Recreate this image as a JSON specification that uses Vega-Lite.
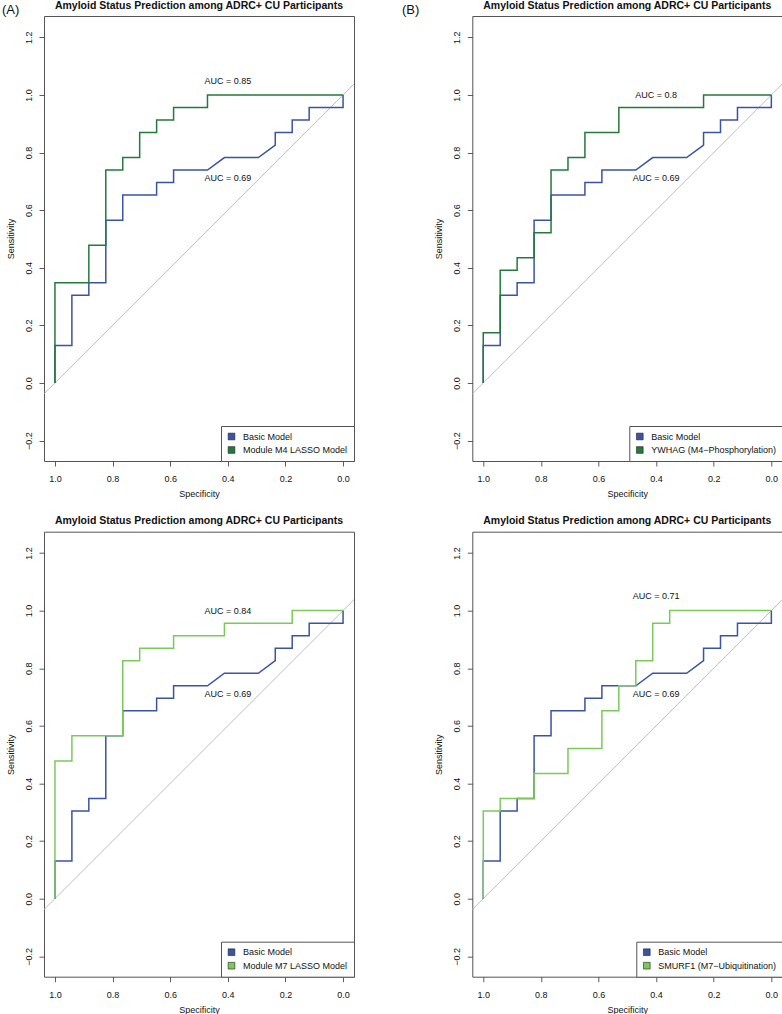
{
 "$schema": "https://vega.github.io/schema/vega-lite/v6.json",
 "padding": {"left": 1, "top": 0, "right": 1, "bottom": 1},
 "background": "white",
 "datasets": {
  "basic": [
   {"spec":1,"sens":0},{"spec":1,"sens":0.1304},{"spec":0.9412,"sens":0.1304},{"spec":0.9412,"sens":0.3043},
   {"spec":0.8824,"sens":0.3043},{"spec":0.8824,"sens":0.3478},{"spec":0.8235,"sens":0.3478},{"spec":0.8235,"sens":0.5652},
   {"spec":0.7647,"sens":0.5652},{"spec":0.7647,"sens":0.6522},{"spec":0.6471,"sens":0.6522},{"spec":0.6471,"sens":0.6957},
   {"spec":0.5882,"sens":0.6957},{"spec":0.5882,"sens":0.7391},{"spec":0.4706,"sens":0.7391},{"spec":0.4118,"sens":0.7826},
   {"spec":0.2941,"sens":0.7826},{"spec":0.2353,"sens":0.8261},{"spec":0.2353,"sens":0.8696},{"spec":0.1765,"sens":0.8696},
   {"spec":0.1765,"sens":0.913},{"spec":0.1176,"sens":0.913},{"spec":0.1176,"sens":0.9565},{"spec":0,"sens":0.9565},{"spec":0,"sens":1}
  ],
  "m4": [
   {"spec":1,"sens":0},{"spec":1,"sens":0.3478},{"spec":0.8824,"sens":0.3478},{"spec":0.8824,"sens":0.4783},
   {"spec":0.8235,"sens":0.4783},{"spec":0.8235,"sens":0.7391},{"spec":0.7647,"sens":0.7391},{"spec":0.7647,"sens":0.7826},
   {"spec":0.7059,"sens":0.7826},{"spec":0.7059,"sens":0.8696},{"spec":0.6471,"sens":0.8696},{"spec":0.6471,"sens":0.913},
   {"spec":0.5882,"sens":0.913},{"spec":0.5882,"sens":0.9565},{"spec":0.4706,"sens":0.9565},{"spec":0.4706,"sens":1},{"spec":0,"sens":1}
  ],
  "ywhag": [
   {"spec":1,"sens":0},{"spec":1,"sens":0.1739},{"spec":0.9412,"sens":0.1739},{"spec":0.9412,"sens":0.3913},
   {"spec":0.8824,"sens":0.3913},{"spec":0.8824,"sens":0.4348},{"spec":0.8235,"sens":0.4348},{"spec":0.8235,"sens":0.5217},
   {"spec":0.7647,"sens":0.5217},{"spec":0.7647,"sens":0.7391},{"spec":0.7059,"sens":0.7391},{"spec":0.7059,"sens":0.7826},
   {"spec":0.6471,"sens":0.7826},{"spec":0.6471,"sens":0.8696},{"spec":0.5294,"sens":0.8696},{"spec":0.5294,"sens":0.9565},
   {"spec":0.2353,"sens":0.9565},{"spec":0.2353,"sens":1},{"spec":0,"sens":1}
  ],
  "m7": [
   {"spec":1,"sens":0},{"spec":1,"sens":0.4783},{"spec":0.9412,"sens":0.4783},{"spec":0.9412,"sens":0.5652},
   {"spec":0.7647,"sens":0.5652},{"spec":0.7647,"sens":0.8261},{"spec":0.7059,"sens":0.8261},{"spec":0.7059,"sens":0.8696},
   {"spec":0.5882,"sens":0.8696},{"spec":0.5882,"sens":0.913},{"spec":0.4118,"sens":0.913},{"spec":0.4118,"sens":0.9565},
   {"spec":0.1765,"sens":0.9565},{"spec":0.1765,"sens":1},{"spec":0,"sens":1}
  ],
  "smurf1": [
   {"spec":1,"sens":0},{"spec":1,"sens":0.3043},{"spec":0.9412,"sens":0.3043},{"spec":0.9412,"sens":0.3478},
   {"spec":0.8235,"sens":0.3478},{"spec":0.8235,"sens":0.4348},{"spec":0.7059,"sens":0.4348},{"spec":0.7059,"sens":0.5217},
   {"spec":0.5882,"sens":0.5217},{"spec":0.5882,"sens":0.6522},{"spec":0.5294,"sens":0.6522},{"spec":0.5294,"sens":0.7391},
   {"spec":0.4706,"sens":0.7391},{"spec":0.4706,"sens":0.8261},{"spec":0.4118,"sens":0.8261},{"spec":0.4118,"sens":0.9565},
   {"spec":0.3529,"sens":0.9565},{"spec":0.3529,"sens":1},{"spec":0,"sens":1}
  ]
 },
 "columns": 2,
 "spacing": {"row": 70.7, "column": 118.3},
 "bounds": "flush",
 "resolve": {"scale": {"color": "independent", "x": "independent", "y": "independent"}, "legend": {"color": "independent"}},
 "concat": [
  {
   "width": 310, "height": 445,
   "title": {"text": "Amyloid Status Prediction among ADRC+ CU Participants", "offset": -7.5},
   "layer": [
    {"data": {"values": [{}]}, "mark": {"type": "rule", "color": "#B8B8B8", "strokeWidth": 0.9},
     "encoding": {
      "x": {"datum": 1.038, "type": "quantitative", "scale": {"domain": [-0.038, 1.038], "reverse": true, "nice": false, "zero": false}, "axis": {"title": "Specificity", "values": [0, 0.2, 0.4, 0.6, 0.8, 1], "format": ".1f"}},
      "y": {"datum": -0.038, "type": "quantitative", "scale": {"domain": [-0.271, 1.274], "nice": false, "zero": false}, "axis": {"title": "Sensitivity", "values": [-0.2, 0, 0.2, 0.4, 0.6, 0.8, 1, 1.2], "format": ".1f", "labelAngle": -90}},
      "x2": {"datum": -0.038}, "y2": {"datum": 1.038}}},
    {"data": {"values": [{"model": "Basic Model"}, {"model": "Module M4 LASSO Model"}]}, "mark": {"type": "square", "opacity": 0},
     "encoding": {"color": {"field": "model", "type": "nominal", "sort": null, "scale": {"domain": ["Basic Model", "Module M4 LASSO Model"], "range": ["#3A53A4", "#237A3C"]}, "legend": {"title": null, "direction": "vertical"}}}},
    {"data": {"name": "basic"}, "mark": {"type": "line", "strokeWidth": 1.5, "color": "#3A53A4"},
     "encoding": {"x": {"field": "spec", "type": "quantitative"}, "y": {"field": "sens", "type": "quantitative"}, "order": {"value": null}}},
    {"data": {"name": "m4"}, "mark": {"type": "line", "strokeWidth": 1.5, "color": "#237A3C"},
     "encoding": {"x": {"field": "spec", "type": "quantitative"}, "y": {"field": "sens", "type": "quantitative"}, "order": {"value": null}}},
    {"data": {"values": [{}]}, "mark": {"type": "text", "fontSize": 9, "color": "#111"},
     "encoding": {"x": {"datum": 0.4, "type": "quantitative"}, "y": {"datum": 1.05, "type": "quantitative"}, "text": {"value": "AUC = 0.85"}}},
    {"data": {"values": [{}]}, "mark": {"type": "text", "fontSize": 9, "color": "#111"},
     "encoding": {"x": {"datum": 0.4, "type": "quantitative"}, "y": {"datum": 0.711, "type": "quantitative"}, "text": {"value": "AUC = 0.69"}}},
    {"data": {"values": [{}]}, "mark": {"type": "text", "fontSize": 13, "align": "left", "baseline": "middle", "color": "#111"},
     "encoding": {"x": {"datum": 1.184, "type": "quantitative"}, "y": {"datum": 1.295, "type": "quantitative"}, "text": {"value": "(A)"}}}
   ]
  },
  {
   "width": 310, "height": 445,
   "title": {"text": "Amyloid Status Prediction among ADRC+ CU Participants", "offset": -7.5},
   "layer": [
    {"data": {"values": [{}]}, "mark": {"type": "rule", "color": "#B8B8B8", "strokeWidth": 0.9},
     "encoding": {
      "x": {"datum": 1.038, "type": "quantitative", "scale": {"domain": [-0.038, 1.038], "reverse": true, "nice": false, "zero": false}, "axis": {"title": "Specificity", "values": [0, 0.2, 0.4, 0.6, 0.8, 1], "format": ".1f"}},
      "y": {"datum": -0.038, "type": "quantitative", "scale": {"domain": [-0.271, 1.274], "nice": false, "zero": false}, "axis": {"title": "Sensitivity", "values": [-0.2, 0, 0.2, 0.4, 0.6, 0.8, 1, 1.2], "format": ".1f", "labelAngle": -90}},
      "x2": {"datum": -0.038}, "y2": {"datum": 1.038}}},
    {"data": {"values": [{"model": "Basic Model"}, {"model": "YWHAG (M4−Phosphorylation)"}]}, "mark": {"type": "square", "opacity": 0},
     "encoding": {"color": {"field": "model", "type": "nominal", "sort": null, "scale": {"domain": ["Basic Model", "YWHAG (M4−Phosphorylation)"], "range": ["#3A53A4", "#237A3C"]}, "legend": {"title": null, "direction": "vertical"}}}},
    {"data": {"name": "basic"}, "mark": {"type": "line", "strokeWidth": 1.5, "color": "#3A53A4"},
     "encoding": {"x": {"field": "spec", "type": "quantitative"}, "y": {"field": "sens", "type": "quantitative"}, "order": {"value": null}}},
    {"data": {"name": "ywhag"}, "mark": {"type": "line", "strokeWidth": 1.5, "color": "#237A3C"},
     "encoding": {"x": {"field": "spec", "type": "quantitative"}, "y": {"field": "sens", "type": "quantitative"}, "order": {"value": null}}},
    {"data": {"values": [{}]}, "mark": {"type": "text", "fontSize": 9, "color": "#111"},
     "encoding": {"x": {"datum": 0.4, "type": "quantitative"}, "y": {"datum": 1.0, "type": "quantitative"}, "text": {"value": "AUC = 0.8"}}},
    {"data": {"values": [{}]}, "mark": {"type": "text", "fontSize": 9, "color": "#111"},
     "encoding": {"x": {"datum": 0.4, "type": "quantitative"}, "y": {"datum": 0.711, "type": "quantitative"}, "text": {"value": "AUC = 0.69"}}},
    {"data": {"values": [{}]}, "mark": {"type": "text", "fontSize": 13, "align": "left", "baseline": "middle", "color": "#111"},
     "encoding": {"x": {"datum": 1.282, "type": "quantitative"}, "y": {"datum": 1.295, "type": "quantitative"}, "text": {"value": "(B)"}}}
   ]
  },
  {
   "width": 310, "height": 445,
   "title": "Amyloid Status Prediction among ADRC+ CU Participants",
   "layer": [
    {"data": {"values": [{}]}, "mark": {"type": "rule", "color": "#B8B8B8", "strokeWidth": 0.9},
     "encoding": {
      "x": {"datum": 1.038, "type": "quantitative", "scale": {"domain": [-0.038, 1.038], "reverse": true, "nice": false, "zero": false}, "axis": {"title": "Specificity", "values": [0, 0.2, 0.4, 0.6, 0.8, 1], "format": ".1f"}},
      "y": {"datum": -0.038, "type": "quantitative", "scale": {"domain": [-0.271, 1.274], "nice": false, "zero": false}, "axis": {"title": "Sensitivity", "values": [-0.2, 0, 0.2, 0.4, 0.6, 0.8, 1, 1.2], "format": ".1f", "labelAngle": -90}},
      "x2": {"datum": -0.038}, "y2": {"datum": 1.038}}},
    {"data": {"values": [{"model": "Basic Model"}, {"model": "Module M7 LASSO Model"}]}, "mark": {"type": "square", "opacity": 0},
     "encoding": {"color": {"field": "model", "type": "nominal", "sort": null, "scale": {"domain": ["Basic Model", "Module M7 LASSO Model"], "range": ["#3A53A4", "#7BC95B"]}, "legend": {"title": null, "direction": "vertical"}}}},
    {"data": {"name": "basic"}, "mark": {"type": "line", "strokeWidth": 1.5, "color": "#3A53A4"},
     "encoding": {"x": {"field": "spec", "type": "quantitative"}, "y": {"field": "sens", "type": "quantitative"}, "order": {"value": null}}},
    {"data": {"name": "m7"}, "mark": {"type": "line", "strokeWidth": 1.5, "color": "#7BC95B"},
     "encoding": {"x": {"field": "spec", "type": "quantitative"}, "y": {"field": "sens", "type": "quantitative"}, "order": {"value": null}}},
    {"data": {"values": [{}]}, "mark": {"type": "text", "fontSize": 9, "color": "#111"},
     "encoding": {"x": {"datum": 0.4, "type": "quantitative"}, "y": {"datum": 1.0, "type": "quantitative"}, "text": {"value": "AUC = 0.84"}}},
    {"data": {"values": [{}]}, "mark": {"type": "text", "fontSize": 9, "color": "#111"},
     "encoding": {"x": {"datum": 0.4, "type": "quantitative"}, "y": {"datum": 0.711, "type": "quantitative"}, "text": {"value": "AUC = 0.69"}}}
   ]
  },
  {
   "width": 310, "height": 445,
   "title": "Amyloid Status Prediction among ADRC+ CU Participants",
   "layer": [
    {"data": {"values": [{}]}, "mark": {"type": "rule", "color": "#B8B8B8", "strokeWidth": 0.9},
     "encoding": {
      "x": {"datum": 1.038, "type": "quantitative", "scale": {"domain": [-0.038, 1.038], "reverse": true, "nice": false, "zero": false}, "axis": {"title": "Specificity", "values": [0, 0.2, 0.4, 0.6, 0.8, 1], "format": ".1f"}},
      "y": {"datum": -0.038, "type": "quantitative", "scale": {"domain": [-0.271, 1.274], "nice": false, "zero": false}, "axis": {"title": "Sensitivity", "values": [-0.2, 0, 0.2, 0.4, 0.6, 0.8, 1, 1.2], "format": ".1f", "labelAngle": -90}},
      "x2": {"datum": -0.038}, "y2": {"datum": 1.038}}},
    {"data": {"values": [{"model": "Basic Model"}, {"model": "SMURF1 (M7−Ubiquitination)"}]}, "mark": {"type": "square", "opacity": 0},
     "encoding": {"color": {"field": "model", "type": "nominal", "sort": null, "scale": {"domain": ["Basic Model", "SMURF1 (M7−Ubiquitination)"], "range": ["#3A53A4", "#7BC95B"]}, "legend": {"title": null, "direction": "vertical"}}}},
    {"data": {"name": "basic"}, "mark": {"type": "line", "strokeWidth": 1.5, "color": "#3A53A4"},
     "encoding": {"x": {"field": "spec", "type": "quantitative"}, "y": {"field": "sens", "type": "quantitative"}, "order": {"value": null}}},
    {"data": {"name": "smurf1"}, "mark": {"type": "line", "strokeWidth": 1.5, "color": "#7BC95B"},
     "encoding": {"x": {"field": "spec", "type": "quantitative"}, "y": {"field": "sens", "type": "quantitative"}, "order": {"value": null}}},
    {"data": {"values": [{}]}, "mark": {"type": "text", "fontSize": 9, "color": "#111"},
     "encoding": {"x": {"datum": 0.4, "type": "quantitative"}, "y": {"datum": 1.05, "type": "quantitative"}, "text": {"value": "AUC = 0.71"}}},
    {"data": {"values": [{}]}, "mark": {"type": "text", "fontSize": 9, "color": "#111"},
     "encoding": {"x": {"datum": 0.4, "type": "quantitative"}, "y": {"datum": 0.711, "type": "quantitative"}, "text": {"value": "AUC = 0.69"}}}
   ]
  }
 ],
 "config": {
  "font": "Liberation Sans",
  "view": {"stroke": "#555", "strokeWidth": 1},
  "axis": {"grid": false, "domain": false, "tickColor": "#333", "tickSize": 5, "tickWidth": 0.8, "labelFontSize": 9, "labelColor": "#111", "titleFontSize": 9, "titleFontWeight": "normal", "titleColor": "#111", "labelFont": "Liberation Sans", "titleFont": "Liberation Sans"},
  "axisX": {"labelPadding": 8.5, "titlePadding": 6},
  "axisY": {"labelPadding": 6, "titlePadding": 9},
  "title": {"fontSize": 10.5, "fontWeight": "bold", "offset": 5, "color": "#111", "font": "Liberation Sans"},
  "legend": {"orient": "bottom-right", "offset": 0, "padding": 6, "strokeColor": "#555", "fillColor": "white", "labelFontSize": 9, "labelFont": "Liberation Sans", "labelColor": "#111", "symbolType": "square", "symbolSize": 45, "symbolOpacity": 1, "symbolStrokeColor": "#222", "symbolStrokeWidth": 0.6, "rowPadding": 2.5, "labelOffset": 7}
 }
}
